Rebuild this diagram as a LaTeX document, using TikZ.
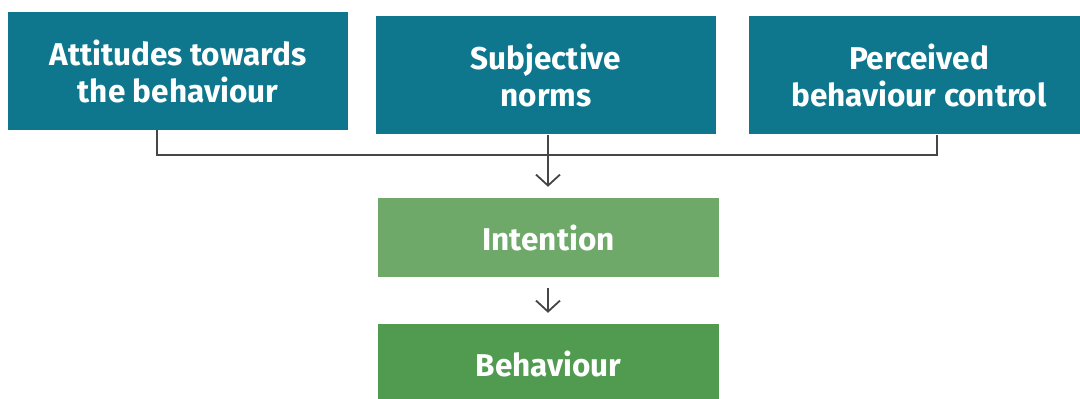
\documentclass[tikz,border=0pt]{standalone}
\usepackage{fontspec}
\setmainfont{Fira Sans}
\usetikzlibrary{arrows.meta}
\definecolor{teal}{RGB}{14,119,142}
\definecolor{lgreen}{RGB}{110,169,106}
\definecolor{dgreen}{RGB}{81,155,81}
\definecolor{linegray}{RGB}{70,70,70}
\tikzset{
  box/.style={inner sep=0pt, minimum width=340pt, text=white, align=center,
    font=\fontsize{31.5}{37}\selectfont\bfseries},
  topbox/.style={box, fill=teal, minimum height=118pt},
  greenbox/.style={box, minimum height=79pt},
  conn/.style={draw=linegray, line width=1.8pt},
  arr/.style={conn, -{Straight Barb[length=11pt,width=24pt,line width=1.8pt]}}
}
\begin{document}
\begin{tikzpicture}[x=1pt,y=1pt]
\useasboundingbox (0,0) rectangle (1080,399);
\begin{scope}
\clip (0,0) rectangle (1080,399);
\node[topbox] (a) at (178,328) {Attitudes towards\\the behaviour};
\node[topbox] (b) at (546,323.5) {Subjective\\norms};
\node[topbox] (c) at (919,323.5) {Perceived\\behaviour control};
\node[greenbox, fill=lgreen, minimum width=341pt] (i) at (548.5,161.5) {Intention};
\node[greenbox, fill=dgreen, minimum width=341pt] (bh) at (548.5,35.5) {Behaviour};
\end{scope}
\coordinate (hl) at (157,244);
\coordinate (hr) at (937,244);
\coordinate (hm) at (548,244);
\draw[conn] (a.south -| hl) -- (hl) -- (hr) -- (c.south -| hr);
\draw[arr, shorten >=11pt] (b.south -| hm) -- (i.north -| hm);
\draw[arr, shorten <=11pt, shorten >=11pt] (i.south -| hm) -- (bh.north -| hm);
\end{tikzpicture}
\end{document}
